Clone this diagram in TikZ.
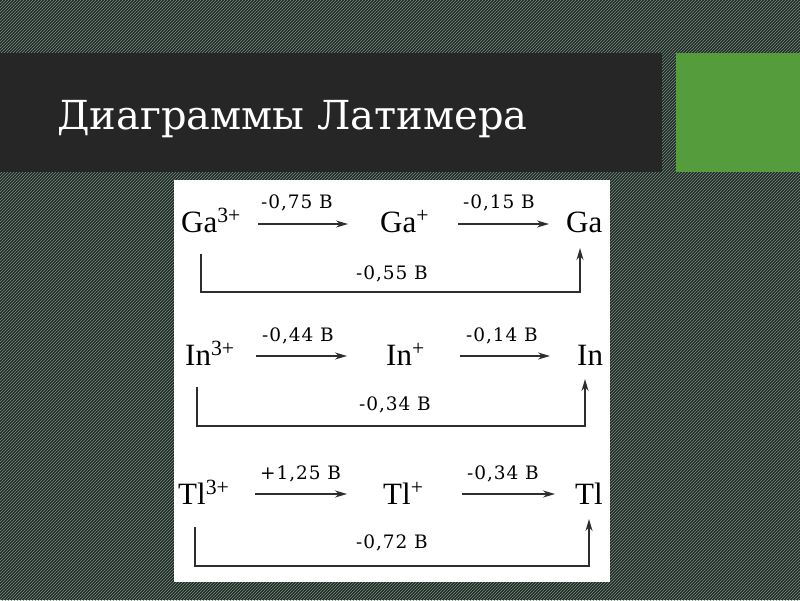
\documentclass[tikz,border=0pt]{standalone}
\usepackage{fontspec}
\setmainfont{Liberation Serif}
\newfontfamily\titlefont{DejaVu Serif}
\newfontfamily\labelfont[LetterSpace=5]{DejaVu Serif}
\usetikzlibrary{arrows.meta,patterns}
\definecolor{bgbase}{HTML}{222A26}
\definecolor{bgline}{HTML}{758F82}
\definecolor{titlebar}{HTML}{262626}
\definecolor{greenbox}{HTML}{559C3C}
\definecolor{ink}{HTML}{2E2E2E}
\begin{document}
\begin{tikzpicture}[x=1pt,y=-1pt,
  species/.style={anchor=base west,inner sep=0pt,text=black,font=\fontsize{31}{31}\selectfont},
  potlabel/.style={anchor=base west,inner sep=0pt,text=black,font=\labelfont\fontsize{18.5}{19}\selectfont},
  reacarrow/.style={draw=ink,line width=1.4pt,-{Stealth[length=12pt,width=7pt]}},
  bracket/.style={draw=ink,line width=1.4pt,-{Stealth[length=12pt,width=7pt]}}]
\useasboundingbox (0,0) rectangle (800,600);
\fill[bgbase] (0,0) rectangle (800,600);
\fill[pattern=north east lines,pattern color=bgline] (0,0) rectangle (800,600);
\fill[titlebar] (0,53) rectangle (662,172);
\fill[greenbox] (676,53) rectangle (800,172);
\node[anchor=base west,inner sep=0pt,text=white,font=\titlefont\fontsize{40}{40}\selectfont] (title) at (57,129) {Диаграммы Латимера};
\fill[white] (174,180) rectangle (610,582);

% Row 1: Ga
\node[species] (ga3) at (181,232) {Ga\textsuperscript{3+}};
\node[species] (ga1) at (380,232) {Ga\textsuperscript{+}};
\node[species] (ga0) at (566,232) {Ga};
\coordinate (ga3e) at (258,224);
\coordinate (ga1w) at (348,224);
\coordinate (ga1e) at (458,224);
\coordinate (ga0w) at (549,224);
\draw[reacarrow] (ga3e) -- (ga1w);
\draw[reacarrow] (ga1e) -- (ga0w);
\node[potlabel] (gl1) at (261,208) {-0,75 В};
\node[potlabel] (gl2) at (463,208) {-0,15 В};
\coordinate (ga3s) at (201,254);
\coordinate (gab) at (390,292);
\coordinate (ga0s) at (580,248);
\draw[bracket] (ga3s) |- (gab) -| (ga0s);
\node[potlabel] (gl3) at (356,279) {-0,55 В};

% Row 2: In
\node[species] (in3) at (185,365) {In\textsuperscript{3+}};
\node[species] (in1) at (386,365) {In\textsuperscript{+}};
\node[species] (in0) at (577,365) {In};
\coordinate (in3e) at (256,356);
\coordinate (in1w) at (347,356);
\coordinate (in1e) at (460,356);
\coordinate (in0w) at (550,356);
\draw[reacarrow] (in3e) -- (in1w);
\draw[reacarrow] (in1e) -- (in0w);
\node[potlabel] (il1) at (262,341) {-0,44 В};
\node[potlabel] (il2) at (466,341) {-0,14 В};
\coordinate (in3s) at (197,387);
\coordinate (inb) at (390,426);
\coordinate (in0s) at (585,379);
\draw[bracket] (in3s) |- (inb) -| (in0s);
\node[potlabel] (il3) at (359,410) {-0,34 В};

% Row 3: Tl
\node[species] (tl3) at (178,504) {Tl\textsuperscript{3+}};
\node[species] (tl1) at (383,504) {Tl\textsuperscript{+}};
\node[species] (tl0) at (575,504) {Tl};
\coordinate (tl3e) at (255,494);
\coordinate (tl1w) at (347,494);
\coordinate (tl1e) at (462,494);
\coordinate (tl0w) at (555,494);
\draw[reacarrow] (tl3e) -- (tl1w);
\draw[reacarrow] (tl1e) -- (tl0w);
\node[potlabel] (tll1) at (260,479) {+1,25 В};
\node[potlabel] (tll2) at (467,479) {-0,34 В};
\coordinate (tl3s) at (195,527);
\coordinate (tlb) at (390,566);
\coordinate (tl0s) at (589,519);
\draw[bracket] (tl3s) |- (tlb) -| (tl0s);
\node[potlabel] (tll3) at (356,548) {-0,72 В};
\end{tikzpicture}
\end{document}
